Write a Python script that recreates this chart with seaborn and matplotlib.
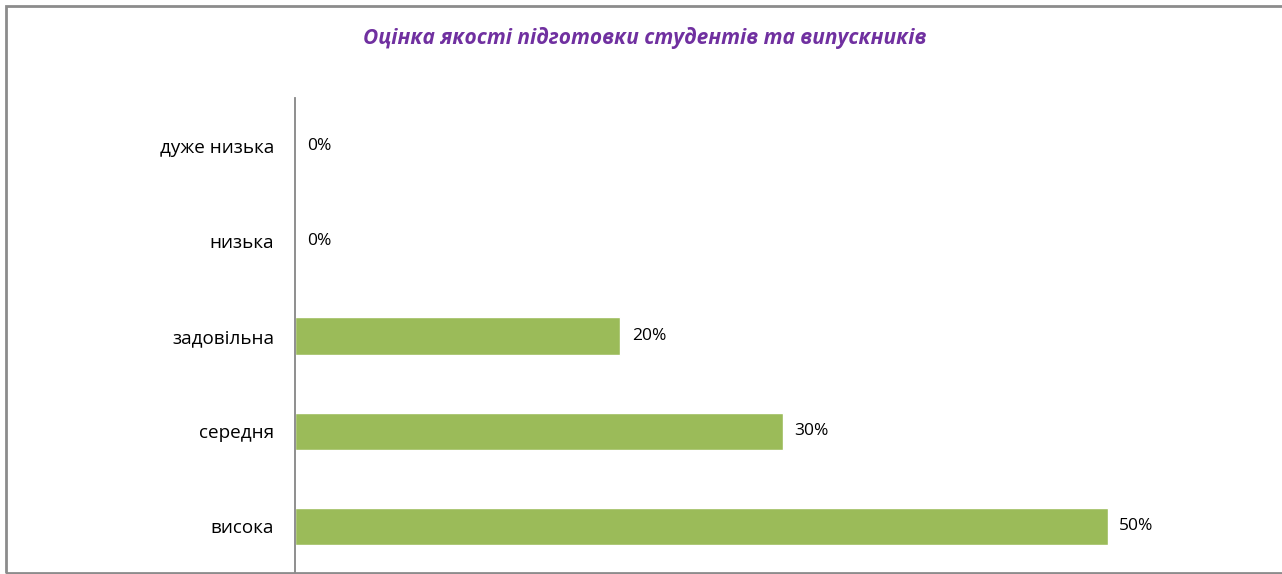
import pandas as pd
import matplotlib.pyplot as plt
import seaborn as sns
from matplotlib.patches import Rectangle

# data
categories = ["дуже низька", "низька", "задовільна", "середня", "висока"]
values = [0, 0, 20, 30, 50]
title = "Оцінка якості підготовки студентів та випускників"

df = pd.DataFrame({"category": categories, "value": values})

sns.set_style("white")
plt.rcParams['font.family'] = ['Open Sans', 'DejaVu Sans']

fig = plt.figure(figsize=(12.82, 5.74), dpi=100)
ax = fig.add_axes([295 / 1282, 0.0, 0.72, 1 - 98 / 574])

sns.barplot(data=df, y="category", x="value", orient="h", color="#9BBB59",
            saturation=1, width=0.39, ax=ax, order=categories)

ax.set_xlim(0, 56.8)
ax.set_ylim(len(categories) - 0.5, -0.5)
ax.set_xlabel("")
ax.set_ylabel("")
ax.set_xticks([])
ax.tick_params(axis="y", length=0, pad=15, labelsize=13.6, labelcolor="#000000")

for side in ["top", "right", "bottom"]:
    ax.spines[side].set_visible(False)
ax.spines["left"].set_color("#868686")
ax.spines["left"].set_linewidth(1.3)

# value labels
for i, v in enumerate(values):
    ax.annotate(f"{v}%", xy=(v, i), xytext=(8.5, 0), textcoords="offset points",
                ha="left", va="center", fontsize=12.5, color="#000000")

fig.text(0.503, 1 - 38 / 574, title, ha="center", va="center", fontsize=15,
         fontweight="bold", fontstyle="italic", color="#7030A0")

# outer frame
fig.patches.append(Rectangle((6 / 1282, 1 / 574), 1.2, 1 - 7 / 574,
                             transform=fig.transFigure, fill=False,
                             edgecolor="#8C8C8C", linewidth=2, zorder=10))

fig.savefig("out.png", dpi=100)
